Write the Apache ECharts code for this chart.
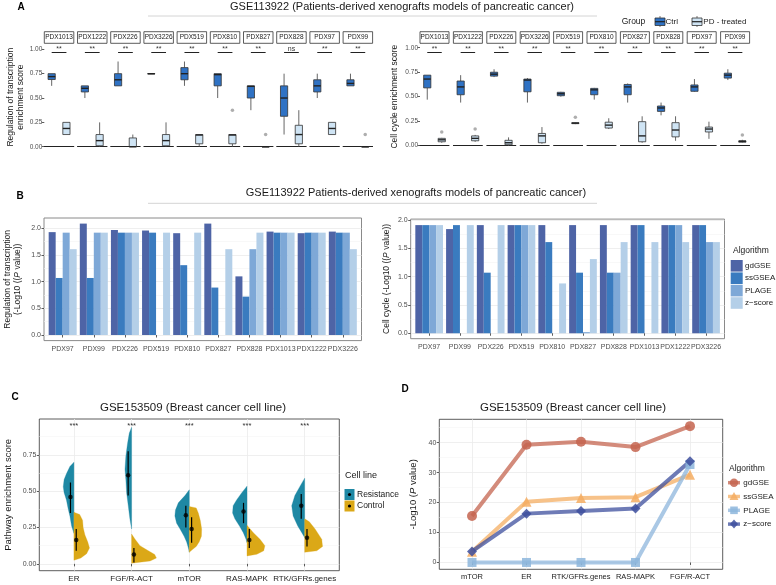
<!DOCTYPE html>
<html><head><meta charset="utf-8">
<script src="https://cdn.jsdelivr.net/npm/echarts@6/dist/echarts.min.js"></script>
<style>html,body{margin:0;padding:0;background:#fff}#c{width:776px;height:585px}</style>
</head><body><div id="c"></div><script>
// ---------------- DATA ----------------
// Panel A (facets, box stats [min,q1,median,q3,max])
const facetsA = ['PDX1013','PDX1222','PDX226','PDX3226','PDX519','PDX810','PDX827','PDX828','PDX97','PDX99'];
const groupsA = ['Ctrl','PD - treated'];
const regCtrl = [[0.625,0.69,0.72,0.75,0.75],[0.5,0.5625,0.6,0.625,0.625],[0.625,0.625,0.6875,0.75,0.875],[0.75,0.75,0.75,0.75,0.75],[0.625,0.6875,0.75,0.8125,0.875],[0.5,0.625,0.74,0.75,0.75],[0.375,0.5,0.62,0.625,0.625],[0.125,0.3125,0.5,0.625,0.75],[0.5,0.5625,0.625,0.6875,0.75],[0.625,0.625,0.65,0.6875,0.75]];
const regPD = [[0.125,0.125,0.1875,0.25,0.25],[0,0.01,0.0625,0.125,0.25],[0,0,0,0.09,0.125],[0,0.01,0.0625,0.125,0.25],[0,0.03,0.12,0.125,0.125],[0,0.03,0.12,0.125,0.125],[0,0,0,0,0],[0,0.03,0.125,0.22,0.375],[0.125,0.125,0.1875,0.25,0.25],[0,0,0,0,0]];
const regPDOut = [[5,0.375],[6,0.125],[9,0.125]];
const regSig = ['**','**','**','**','**','**','**','ns','**','**'];
const cellCtrl = [[0.47,0.59,0.68,0.72,0.72],[0.44,0.52,0.6,0.66,0.72],[0.7,0.71,0.73,0.75,0.78],[0.44,0.55,0.67,0.68,0.69],[0.5,0.51,0.53,0.545,0.55],[0.47,0.52,0.57,0.585,0.59],[0.44,0.52,0.6,0.625,0.635],[0.31,0.35,0.385,0.405,0.44],[0.55,0.555,0.6,0.62,0.68],[0.67,0.69,0.72,0.74,0.78]];
const cellPD = [[0.03,0.04,0.06,0.075,0.08],[0.04,0.05,0.075,0.1,0.11],[0,0.01,0.03,0.055,0.085],[0.02,0.03,0.1,0.125,0.19],[0.22,0.225,0.23,0.235,0.24],[0.17,0.18,0.21,0.24,0.28],[0.03,0.04,0.1,0.245,0.3],[0.05,0.09,0.16,0.235,0.3],[0.07,0.14,0.17,0.19,0.245],[0.03,0.035,0.045,0.05,0.06]];
const cellPDOut = [[0,0.14],[1,0.17],[4,0.29],[9,0.11]];
const cellSig = ['**','**','**','**','**','**','**','**','**','**'];

// Panel B (-log10 P)
const algs = ['gdGSE','ssGSEA','PLAGE','z\u2212score'];
const pdxB = ['PDX97','PDX99','PDX226','PDX519','PDX810','PDX827','PDX828','PDX1013','PDX1222','PDX3226'];
const regGd = [1.93,2.09,1.97,1.96,1.91,2.09,1.1,1.94,1.91,1.94];
const regSs = [1.07,1.07,1.92,1.92,1.31,0.89,0.72,1.92,1.92,1.92];
const regPl = [1.92,1.92,1.92,0,0,0,1.61,1.92,1.92,1.92];
const regZ  = [1.61,1.92,1.92,1.92,1.92,1.61,1.92,1.92,1.92,1.61];
const cellGd = [1.91,1.84,1.91,1.91,1.91,1.91,1.91,1.91,1.91,1.91];
const cellSs = [1.91,1.91,1.07,1.91,1.61,1.07,1.07,1.91,1.91,1.91];
const cellPl = [1.91,0,0,1.91,0,0.02,1.07,0,1.91,1.61];
const cellZ  = [1.91,1.91,1.91,1.91,0.88,1.31,1.61,1.61,1.61,1.61];

// Panel C (split violins: [y, half-width in category units])
const pathwaysC = ['ER','FGF/R-ACT','mTOR','RAS-MAPK','RTK/GFRs.genes'];
const violinRes = [
 [[0.70,0],[0.67,0.07],[0.62,0.13],[0.58,0.17],[0.53,0.185],[0.49,0.17],[0.44,0.13],[0.38,0.10],[0.33,0.07],[0.26,0.04],[0.21,0]],
 [[0.94,0],[0.90,0.04],[0.83,0.07],[0.74,0.10],[0.65,0.115],[0.58,0.10],[0.49,0.087],[0.40,0.058],[0.31,0.03],[0.24,0]],
 [[0.51,0],[0.47,0.075],[0.42,0.19],[0.37,0.24],[0.33,0.25],[0.28,0.22],[0.24,0.16],[0.19,0.09],[0.15,0.046],[0.10,0.01],[0.08,0]],
 [[0.535,0],[0.49,0.09],[0.44,0.18],[0.40,0.24],[0.35,0.25],[0.31,0.21],[0.26,0.13],[0.215,0.064],[0.17,0.017],[0.146,0]],
 [[0.59,0],[0.535,0.08],[0.47,0.17],[0.40,0.225],[0.33,0.20],[0.26,0.12],[0.215,0.05],[0.18,0]]];
const violinCtrl = [
 [[0.355,0],[0.34,0.10],[0.30,0.15],[0.25,0.16],[0.20,0.19],[0.15,0.24],[0.11,0.27],[0.07,0.22],[0.04,0.12],[0.025,0]],
 [[0.205,0],[0.17,0.06],[0.125,0.145],[0.09,0.29],[0.065,0.40],[0.04,0.43],[0.02,0.32],[0.005,0]],
 [[0.395,0],[0.385,0.12],[0.35,0.156],[0.30,0.19],[0.24,0.214],[0.19,0.21],[0.15,0.17],[0.12,0.12],[0.10,0.06],[0.08,0]],
 [[0.265,0],[0.215,0.11],[0.17,0.225],[0.125,0.31],[0.09,0.29],[0.066,0.17],[0.055,0]],
 [[0.31,0],[0.29,0.08],[0.24,0.18],[0.17,0.295],[0.12,0.31],[0.09,0.21],[0.08,0]]];
const resMean = [0.46,0.61,0.335,0.36,0.40];
const resLo   = [0.35,0.47,0.25,0.28,0.31];
const resHi   = [0.56,0.775,0.40,0.42,0.48];
const ctrlMean = [0.165,0.065,0.24,0.165,0.18];
const ctrlLo   = [0.09,0.01,0.146,0.11,0.12];
const ctrlHi   = [0.24,0.11,0.32,0.24,0.24];
const sigC = ['***','***','***','***','***'];

// Panel D
const pathwaysD = ['mTOR','ER','RTK/GFRs.genes','RAS-MAPK','FGF/R-ACT'];
const dGdGSE  = [15.5,39.3,40.3,38.5,45.5];
const dSsGSEA = [3.6,20.3,21.5,21.8,29.3];
const dPLAGE  = [0,0,0,0,32.7];
const dZscore = [3.7,16.3,17.2,18.0,33.8];

// ---------------- STYLE / LAYOUT ----------------
const FONT = '"Liberation Sans", Arial, Helvetica, sans-serif';
const CTRL_FILL = '#2f72c4', PD_FILL = '#cfe4f4';
const BCOL = ['#4e64a6','#3a7bbf','#7ea8d7','#b4cfe8'];
const TEAL = '#1e88a4', GOLD = '#dba817';
const DCOL = ['#c4644f','#f4ad62','#8db6dc','#3d4f9e'];

const grids=[], xAxes=[], yAxes=[], series=[], graphics=[];
const addGrid=g=>{grids.push(Object.assign({containLabel:false, outerBoundsMode:'none'},g));return grids.length-1;};
const addX=a=>{xAxes.push(a);return xAxes.length-1;};
const addY=a=>{yAxes.push(a);return yAxes.length-1;};
function txt(x,y,text,size,color,align,extra){
  return {type:'text', x, y, silent:true, z:100, style:Object.assign({text, fontSize:size, fontFamily:FONT, fill:color,
    align, textAlign:align, verticalAlign:'middle', textVerticalAlign:'middle'}, extra||{})};
}
function hline(x1,x2,y,color,w){return {type:'line', silent:true, z:100, shape:{x1,y1:y,x2,y2:y}, style:{stroke:color, lineWidth:w}};}

// ---------------- PANEL A ----------------
function boxSeries(xi, yi, c, p, sig, sigY){
  return {
    type:'custom', xAxisIndex:xi, yAxisIndex:yi, silent:true, animation:false,
    data:[[0].concat(c),[1].concat(p)],
    encode:{x:0, y:[1,2,3,4,5]},
    renderItem:(params, api)=>{
      const i = api.value(0);
      const pt = k=>api.coord([i, api.value(k)]);
      const pMin=pt(1), pQ1=pt(2), pMed=pt(3), pQ3=pt(4), pMax=pt(5);
      const cx=pMed[0], hw=3.6;
      return {type:'group', children:[
        {type:'line', shape:{x1:cx,y1:pMax[1],x2:cx,y2:pQ3[1]}, style:{stroke:'#555',lineWidth:0.9}},
        {type:'line', shape:{x1:cx,y1:pQ1[1],x2:cx,y2:pMin[1]}, style:{stroke:'#555',lineWidth:0.9}},
        {type:'rect', shape:{x:cx-hw,y:pQ3[1],width:hw*2,height:Math.max(pQ1[1]-pQ3[1],0.3)}, style:{fill:i===0?CTRL_FILL:PD_FILL, stroke:'#333', lineWidth:0.8}},
        {type:'line', shape:{x1:cx-hw,y1:pMed[1],x2:cx+hw,y2:pMed[1]}, style:{stroke:'#222',lineWidth:1.4}}
      ]};
    },
    markLine:{silent:true, symbol:'none', animation:false,
      lineStyle:{color:'#222', width:1, type:'solid'},
      label:{show:true, position:'insideMiddleTop', formatter:sig, fontSize:7, color:'#333', distance:0, fontFamily:FONT},
      data:[[{coord:[0,sigY]},{coord:[1,sigY]}]]}
  };
}
function facetPanel(cfg, ctrl, pd, outs, sigs, yName, nameGap){
  facetsA.forEach((f,i)=>{
    const left = cfg.x0 + i*cfg.step;
    const gi = addGrid({left, top:cfg.top, width:cfg.w, height:cfg.h});
    const xi = addX({type:'category', gridIndex:gi, data:groupsA, axisLine:{show:true, lineStyle:{color:'#222', width:1}}, axisTick:{show:false}, axisLabel:{show:false}, splitLine:{show:false}});
    const yi = addY({type:'value', gridIndex:gi, min:cfg.ymin, max:cfg.ymax, axisLine:{show:false}, splitLine:{show:false},
      axisTick:{show:i===0, length:2.5, customValues:[0,0.25,0.5,0.75,1], lineStyle:{color:'#333', width:0.8}},
      axisLabel:{show:i===0, customValues:[0,0.25,0.5,0.75,1], formatter:v=>v.toFixed(2), fontSize:6.5, color:'#4d4d4d', margin:2, fontFamily:FONT},
      name: i===0 ? yName : '', nameLocation:'middle', nameGap, nameTextStyle:{fontSize:8.5, color:'#1a1a1a', fontFamily:FONT, lineHeight:10}});
    series.push(boxSeries(xi, yi, ctrl[i], pd[i], sigs[i], cfg.sigY));
    const o = outs.filter(d=>d[0]===i).map(d=>[1,d[1]]);
    if (o.length) series.push({type:'scatter', xAxisIndex:xi, yAxisIndex:yi, data:o, symbolSize:3.5, itemStyle:{color:'#9a9a9a'}, silent:true, animation:false});
    graphics.push({type:'rect', silent:true, z:100, shape:{x:left, y:31.7, width:cfg.w, height:11.6}, style:{fill:'#fff', stroke:'#333', lineWidth:0.8}});
    graphics.push(txt(left+cfg.w/2, 37.6, f, 6.5, '#1a1a1a', 'center'));
  });
}
facetPanel({x0:44.3, step:33.2, w:29.5, top:43.3, h:107.7, ymin:-0.044, ymax:1.062, sigY:0.97},
  regCtrl, regPD, regPDOut, regSig, 'Regulation of transcription\nenrichment score', 15);
facetPanel({x0:420, step:33.4, w:29, top:43.3, h:106.7, ymin:-0.044, ymax:1.045, sigY:0.955},
  cellCtrl, cellPD, cellPDOut, cellSig, 'Cell cycle enrichment score', 20);

// ---------------- PANEL B ----------------
const richP = {i:{fontStyle:'italic', fontSize:8.5, fontFamily:FONT, color:'#1a1a1a'}};
function barPanel(o, vals, yName, nameGap){
  const go = addGrid({left:o.left, top:o.top, width:o.width, height:o.height, show:true, borderColor:'#8a8a8a', borderWidth:1, backgroundColor:'rgba(0,0,0,0)'});
  addX({type:'value', gridIndex:go, min:0, max:1, show:false});
  addY({type:'value', gridIndex:go, min:o.ymin, max:o.ymax, axisLine:{show:false},
    axisTick:{show:true, length:2.5, customValues:[0,0.5,1,1.5,2], lineStyle:{color:'#333', width:0.8}},
    axisLabel:{customValues:[0,0.5,1,1.5,2], formatter:v=>v.toFixed(1), fontSize:7, color:'#4d4d4d', margin:3, fontFamily:FONT},
    splitLine:{show:true, lineStyle:{color:'#ebebeb', width:0.8}},
    name:yName, nameLocation:'middle', nameGap, nameTextStyle:{fontSize:8.5, color:'#1a1a1a', fontFamily:FONT, lineHeight:10, rich:richP}});
  addY({type:'value', gridIndex:go, min:o.ymin, max:o.ymax, position:'left', axisLine:{show:false},
    axisTick:{show:false, customValues:[0.25,0.75,1.25,1.75]}, axisLabel:{show:false},
    splitLine:{show:true, lineStyle:{color:'#f4f4f4', width:0.6}}});
  const inset = o.width/10.2*0.1;
  const gi = addGrid({left:o.left+inset, top:o.top, width:o.width-2*inset, height:o.height});
  const xi = addX({type:'category', gridIndex:gi, data:pdxB, axisLine:{show:false},
    axisTick:{show:true, alignWithLabel:true, length:2.5, lineStyle:{color:'#333', width:0.8}},
    axisLabel:{interval:0, fontSize:7, color:'#4d4d4d', margin:4.5, fontFamily:FONT}, splitLine:{show:false}});
  const yi = addY({type:'value', gridIndex:gi, min:o.ymin, max:o.ymax, show:false, splitLine:{show:false}});
  vals.forEach((v,k)=>series.push({type:'bar', name:algs[k], xAxisIndex:xi, yAxisIndex:yi, data:v, barGap:'0%', barCategoryGap:'10%', itemStyle:{color:BCOL[k]}, silent:true, animation:false}));
}
barPanel({left:44, top:218, width:317.5, height:122.6, ymin:-0.105, ymax:2.195}, [regGd,regSs,regPl,regZ],
  'Regulation of transcription\n(-Log10 ((' + '{i|P}' + ' value))', 21);
barPanel({left:410.7, top:219.1, width:313.8, height:119.6, ymin:-0.096, ymax:2.016}, [cellGd,cellSs,cellPl,cellZ],
  'Cell cycle (-Log10 ((' + '{i|P}' + ' value))', 19);

// ---------------- shared helpers for C / D ----------------
function bwPanel(o, xNames, yTicks, yMinor, yFmt, yName, nameGap, xLabelSize){
  const g = addGrid({left:o.left, top:o.top, width:o.width, height:o.height, show:true, borderColor:'#333', borderWidth:0.8, backgroundColor:'rgba(0,0,0,0)'});
  const xi = addX({type:'value', gridIndex:g, min:0.4, max:5.6, axisLine:{show:false},
    axisTick:{show:true, length:2.5, customValues:[1,2,3,4,5], lineStyle:{color:'#333', width:0.8}},
    axisLabel:{customValues:[1,2,3,4,5], formatter:v=>xNames[Math.round(v)-1], fontSize:xLabelSize, color:'#1a1a1a', margin:4, fontFamily:FONT},
    splitLine:{show:true, lineStyle:{color:'#ebebeb', width:0.8}}});
  const yi = addY({type:'value', gridIndex:g, min:o.ymin, max:o.ymax, axisLine:{show:false},
    axisTick:{show:true, length:2.5, customValues:yTicks, lineStyle:{color:'#333', width:0.8}},
    axisLabel:{customValues:yTicks, formatter:yFmt, fontSize:7, color:'#4d4d4d', margin:3, fontFamily:FONT},
    splitLine:{show:true, lineStyle:{color:'#ebebeb', width:0.8}},
    name:yName, nameLocation:'middle', nameGap, nameTextStyle:{fontSize:9.5, color:'#1a1a1a', fontFamily:FONT, rich:{i:{fontStyle:'italic', fontSize:9.5, fontFamily:FONT, color:'#1a1a1a'}}}});
  addY({type:'value', gridIndex:g, min:o.ymin, max:o.ymax, position:'left', axisLine:{show:false},
    axisTick:{show:false, customValues:yMinor}, axisLabel:{show:false},
    splitLine:{show:true, lineStyle:{color:'#f5f5f5', width:0.6}}});
  return {xi, yi};
}

// ---------------- PANEL C ----------------
const C = bwPanel({left:39.3, top:419, width:300, height:151.7, ymin:-0.047, ymax:0.997}, pathwaysC,
  [0,0.25,0.5,0.75], [0.125,0.375,0.625,0.875], v=>v.toFixed(2), 'Pathway enrichment score', 26, 8);
function violin(shapes, side, color){
  series.push({type:'custom', xAxisIndex:C.xi, yAxisIndex:C.yi, silent:true, animation:false,
    data:pathwaysC.map((p,k)=>[k+1, shapes[k][0][0]]), encode:{x:0,y:1},
    renderItem:(params, api)=>{
      const sh = shapes[params.dataIndex];
      const x = api.value(0);
      const unit = api.size([1,0])[0];
      const pts = sh.map(([y,w])=>{const p=api.coord([x,y]); return [p[0]+side*w*unit, p[1]];});
      return {type:'polygon', shape:{points:pts}, style:{fill:color, stroke:color, lineWidth:0.3}};
    }});
}
violin(violinRes, -1, TEAL);
violin(violinCtrl, 1, GOLD);
function meanSd(mean, lo, hi, off){
  series.push({type:'custom', xAxisIndex:C.xi, yAxisIndex:C.yi, silent:true, animation:false, z:5,
    data:mean.map((m,k)=>[k+1+off, lo[k], hi[k]]), encode:{x:0,y:[1,2]},
    renderItem:(params, api)=>{
      const a=api.coord([api.value(0), api.value(1)]), b=api.coord([api.value(0), api.value(2)]);
      return {type:'line', shape:{x1:a[0],y1:a[1],x2:b[0],y2:b[1]}, style:{stroke:'#000', lineWidth:1.2}};
    }});
  series.push({type:'scatter', xAxisIndex:C.xi, yAxisIndex:C.yi, silent:true, animation:false, z:6,
    data:mean.map((m,k)=>[k+1+off, m]), symbolSize:4.5, itemStyle:{color:'#000'}});
}
meanSd(resMean, resLo, resHi, -0.06);
meanSd(ctrlMean, ctrlLo, ctrlHi, 0.04);
series.push({type:'custom', xAxisIndex:C.xi, yAxisIndex:C.yi, silent:true, animation:false,
  data:sigC.map((s,k)=>[k+1, 0.947]), encode:{x:0,y:1},
  renderItem:(params, api)=>{
    const p = api.coord([api.value(0), api.value(1)]);
    return {type:'text', x:p[0], y:p[1], style:{text:sigC[params.dataIndex], fontSize:7.5, fontFamily:FONT, fill:'#333', align:'center', textAlign:'center', verticalAlign:'middle', textVerticalAlign:'middle'}};
  }});

// ---------------- PANEL D ----------------
const D = bwPanel({left:439.3, top:419.3, width:283.4, height:150, ymin:-2.28, ymax:47.78}, pathwaysD,
  [0,10,20,30,40], [5,15,25,35,45], v=>String(v), '-Log10 (' + '{i|P}' + ' value)', 21, 7.5);
const dSeries = [dGdGSE, dSsGSEA, dPLAGE, dZscore];
const dSym = ['circle','triangle','rect','diamond'];
const dSize = [10,10,9,10];
dSeries.forEach((v,k)=>series.push({type:'line', name:algs[k]+' ', xAxisIndex:D.xi, yAxisIndex:D.yi, silent:true, animation:false,
  data:v.map((y,i)=>[i+1,y]), symbol:dSym[k], symbolSize:dSize[k], showSymbol:true,
  lineStyle:{color:DCOL[k], width:4, opacity:0.75}, itemStyle:{color:DCOL[k], opacity:0.85}}));

// ---------------- TEXT / DECORATION ----------------
graphics.push(txt(21,7,'A',10,'#000','center',{fontWeight:'bold'}));
graphics.push(txt(402,7,'GSE113922 (Patients-derived xenografts models of pancreatic cancer)',11,'#1a1a1a','center'));
graphics.push(hline(148,597,16,'#d4d4d4',1));
graphics.push(txt(20,196,'B',10,'#000','center',{fontWeight:'bold'}));
graphics.push(txt(416,193.3,'GSE113922 Patients-derived xenografts models of pancreatic cancer)',11,'#1a1a1a','center'));
graphics.push(hline(148,597,203.3,'#d4d4d4',1));
graphics.push(txt(15,397.5,'C',10,'#000','center',{fontWeight:'bold'}));
graphics.push(txt(193,408.3,'GSE153509 (Breast cancer cell line)',11.5,'#1a1a1a','center'));
graphics.push(txt(405,389,'D',10,'#000','center',{fontWeight:'bold'}));
graphics.push(txt(573,408.3,'GSE153509 (Breast cancer cell line)',11.5,'#1a1a1a','center'));

// Legend A
graphics.push(txt(621.7,21.7,'Group',8.5,'#1a1a1a','left'));
[[655,'Ctrl',CTRL_FILL,665.5],[692,'PD - treated',PD_FILL,703.3]].forEach(([x,label,fill,tx])=>{
  graphics.push({type:'line', silent:true, z:100, shape:{x1:x+5,y1:16,x2:x+5,y2:27}, style:{stroke:'#555',lineWidth:0.8}});
  graphics.push({type:'rect', silent:true, z:100, shape:{x:x, y:18, width:10, height:7.5}, style:{fill, stroke:'#333', lineWidth:0.8}});
  graphics.push(hline(x, x+10, 21.7, '#222', 1.2));
  graphics.push(txt(tx,21.7,label,8,'#1a1a1a','left'));
});
// Legend B
graphics.push(txt(733,250.7,'Algorithm',8.5,'#1a1a1a','left'));
algs.forEach((a,k)=>{
  const y = 260 + k*12.4;
  graphics.push({type:'rect', silent:true, z:100, shape:{x:730.7, y, width:12, height:11.6}, style:{fill:BCOL[k]}});
  graphics.push(txt(745, y+5.8, a, 8, '#1a1a1a', 'left'));
});
// Legend C
graphics.push(txt(345,476,'Cell line',9,'#1a1a1a','left'));
[[TEAL,'Resistance',489],[GOLD,'Control',500.5]].forEach(([col,label,y])=>{
  graphics.push({type:'rect', silent:true, z:100, shape:{x:344.5, y, width:10, height:11}, style:{fill:col}});
  graphics.push({type:'circle', silent:true, z:101, shape:{cx:349.5, cy:y+5.5, r:1.6}, style:{fill:'#000'}});
  graphics.push(txt(357,y+5.5,label,8.5,'#1a1a1a','left'));
});
// Legend D
graphics.push(txt(729,468.3,'Algorithm',8.5,'#1a1a1a','left'));
algs.forEach((a,k)=>{
  const y = 482.7 + k*13.8, cx = 734;
  graphics.push({type:'line', silent:true, z:100, shape:{x1:728,y1:y,x2:740,y2:y}, style:{stroke:DCOL[k], lineWidth:3.5, opacity:0.75}});
  let m;
  if (k===0) m = {type:'circle', shape:{cx, cy:y, r:4.2}};
  else if (k===1) m = {type:'polygon', shape:{points:[[cx,y-4.5],[cx+4.5,y+3.5],[cx-4.5,y+3.5]]}};
  else if (k===2) m = {type:'rect', shape:{x:cx-3.8, y:y-3.8, width:7.6, height:7.6}};
  else m = {type:'polygon', shape:{points:[[cx,y-4.5],[cx+4,y],[cx,y+4.5],[cx-4,y]]}};
  m.silent=true; m.z=101; m.style={fill:DCOL[k], opacity:0.85};
  graphics.push(m);
  graphics.push(txt(743.3, y, a, 8, '#1a1a1a', 'left'));
});

const chart = echarts.init(document.getElementById('c'), null, {renderer:'canvas'});
chart.setOption({
  backgroundColor:'#fff', animation:false,
  textStyle:{fontFamily:FONT},
  grid:grids, xAxis:xAxes, yAxis:yAxes, series, graphic:{elements:graphics}
});
</script></body></html>
